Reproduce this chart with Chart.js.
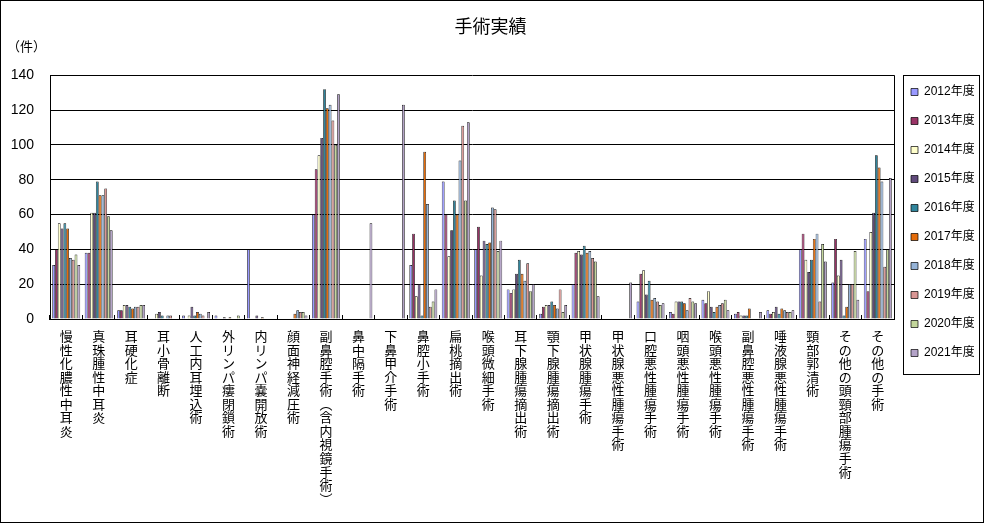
<!DOCTYPE html>
<html lang="ja">
<head>
<meta charset="utf-8">
<title>手術実績</title>
<script src="https://cdn.jsdelivr.net/npm/chart.js@4.4.1/dist/chart.umd.min.js"></script>
<style>
  html, body { margin: 0; padding: 0; background: #fff; }
  #chart-surgery { display: block; }
</style>
</head>
<body>
<canvas id="chart-surgery" width="984" height="523"></canvas>
<script>
var categories = [
  "慢性化膿性中耳炎", "真珠腫性中耳炎", "耳硬化症", "耳小骨離断", "人工内耳埋込術",
  "外リンパ瘻閉鎖術", "内リンパ嚢開放術", "顔面神経減圧術", "副鼻腔手術︵含内視鏡手術︶",
  "鼻中隔手術", "下鼻甲介手術", "鼻腔小手術", "扁桃摘出術", "喉頭微細手術",
  "耳下腺腫瘍摘出術", "顎下腺腫瘍摘出術", "甲状腺腫瘍手術", "甲状腺悪性腫瘍手術",
  "口腔悪性腫瘍手術", "咽頭悪性腫瘍手術", "喉頭悪性腫瘍手術", "副鼻腔悪性腫瘍手術",
  "唾液腺悪性腫瘍手術", "頸部郭清術", "その他の頭頸部腫瘍手術", "その他の手術"
];

var years = ["2012年度", "2013年度", "2014年度", "2015年度", "2016年度",
  "2017年度", "2018年度", "2019年度", "2020年度", "2021年度"];

var yearColors = ["#9999FF", "#993366", "#FFFFCC", "#604A7B", "#31859C",
  "#E46C0A", "#95B3D7", "#D99694", "#C3D69B", "#B3A2C7"];

// 件数 (カテゴリ順)
var cases2012 = [31, 38, 5, 0, 2, 2, 40, 0, 60, 0, 0, 31, 79, 40, 17, 3, 20, 0, 10, 4, 11, 3, 5, 40, 21, 46];
var cases2013 = [40, 38, 5, 0, 0, 0, 0, 0, 86, 0, 0, 49, 60, 53, 15, 7, 38, 0, 26, 3, 9, 4, 3, 49, 46, 16];
var cases2014 = [55, 61, 8, 3, 2, 0, 0, 0, 94, 0, 0, 13, 36, 25, 17, 8, 39, 0, 28, 10, 16, 2, 4, 34, 25, 50];
var cases2015 = [52, 61, 8, 4, 7, 1, 2, 0, 104, 0, 0, 20, 51, 45, 26, 8, 37, 0, 14, 10, 7, 2, 7, 27, 34, 61];
var cases2016 = [55, 79, 7, 2, 2, 0, 0, 0, 132, 0, 0, 2, 68, 43, 34, 10, 42, 0, 22, 10, 4, 2, 3, 34, 2, 94];
var cases2017 = [52, 71, 6, 0, 4, 1, 1, 3, 121, 0, 0, 96, 60, 44, 26, 8, 38, 0, 11, 9, 7, 6, 6, 46, 7, 87];
var cases2018 = [35, 71, 7, 2, 3, 0, 0, 5, 123, 0, 0, 66, 91, 64, 22, 6, 39, 0, 12, 5, 8, 0, 5, 49, 20, 79];
var cases2019 = [34, 75, 7, 2, 2, 0, 0, 4, 114, 0, 0, 7, 111, 63, 32, 17, 35, 0, 10, 12, 9, 0, 4, 10, 20, 30];
var cases2020 = [37, 59, 8, 0, 0, 2, 0, 4, 100, 0, 0, 10, 68, 39, 16, 4, 33, 0, 8, 10, 11, 0, 4, 43, 39, 40];
var cases2021 = [31, 51, 8, 0, 4, 0, 0, 2, 129, 55, 123, 17, 113, 45, 20, 8, 13, 21, 9, 9, 5, 4, 5, 33, 11, 81];

var yTicks = [0, 20, 40, 60, 80, 100, 120, 140];

var series = [cases2012, cases2013, cases2014, cases2015, cases2016,
  cases2017, cases2018, cases2019, cases2020, cases2021];

Chart.defaults.font.family = "'Liberation Sans', 'Noto Sans CJK JP', sans-serif";
Chart.defaults.color = "#000";

// 枠線 (グラフ全体・プロットエリア・凡例)
var framePlugin = {
  id: "frames",
  afterDraw: function (chart) {
    var c = chart.ctx;
    var area = chart.chartArea;
    var lg = chart.legend;
    var boxes = lg.legendHitBoxes;
    var last = boxes[boxes.length - 1];
    c.save();
    c.strokeStyle = "#000";
    c.lineWidth = 1;
    c.strokeRect(0.5, 0.5, chart.width - 1, chart.height - 1);
    c.beginPath();
    c.moveTo(Math.round(area.right) + 0.5, area.top);
    c.lineTo(Math.round(area.right) + 0.5, area.bottom);
    c.stroke();
    c.strokeRect(Math.round(lg.left) + 9.5, Math.round(area.top) + 0.5, 76, Math.round(last.top + last.height + 15 - area.top));
    c.restore();
  },
};

var ctx = document.getElementById("chart-surgery").getContext("2d");

new Chart(ctx, {
  type: "bar",
  data: {
    labels: categories.map(function (name) {
      return Array.from(name);
    }),
    datasets: years.map(function (year, i) {
      return {
        label: year,
        data: series[i],
        backgroundColor: yearColors[i],
        borderColor: "#000",
        borderWidth: 0.7,
        categoryPercentage: 0.86,
        barPercentage: 1.0,
      };
    }),
  },
  options: {
    responsive: false,
    animation: false,
    layout: {
      padding: { left: 7, right: 10, top: 0, bottom: 0 },
    },
    plugins: {
      title: {
        display: true,
        text: "手術実績",
        font: { size: 18, weight: "normal" },
        padding: { top: 17, bottom: 0 },
      },
      subtitle: {
        display: true,
        text: "（件）",
        align: "start",
        font: { size: 13 },
        padding: { top: 1, bottom: 20 },
      },
      legend: {
        position: "right",
        align: "start",
        fullSize: true,
        maxWidth: 80,
        title: {
          display: true,
          text: "",
          font: { size: 1, lineHeight: 1 },
          padding: { top: 68, bottom: 0 },
        },
        labels: {
          boxWidth: 7,
          boxHeight: 7,
          padding: 17,
          font: { size: 12 },
        },
      },
      tooltip: {
        enabled: false,
      },
    },
    scales: {
      x: {
        afterFit: function (scale) {
          scale.height = 204;
        },
        grid: {
          display: true,
          offset: true,
          drawOnChartArea: false,
          drawTicks: true,
          tickLength: -4,
          color: "#000",
        },
        border: {
          display: true,
          color: "#000",
        },
        ticks: {
          autoSkip: false,
          maxRotation: 0,
          minRotation: 0,
          padding: 16,
          font: { size: 13, lineHeight: 1.04 },
        },
      },
      y: {
        min: yTicks[0],
        max: yTicks[yTicks.length - 1],
        afterFit: function (scale) {
          scale.width = 43;
        },
        grid: {
          display: true,
          drawTicks: false,
          color: "#000",
        },
        border: {
          display: true,
          color: "#000",
        },
        ticks: {
          stepSize: yTicks[1] - yTicks[0],
          padding: 16,
          font: { size: 14 },
        },
      },
    },
  },
  plugins: [framePlugin],
});
</script>
</body>
</html>
